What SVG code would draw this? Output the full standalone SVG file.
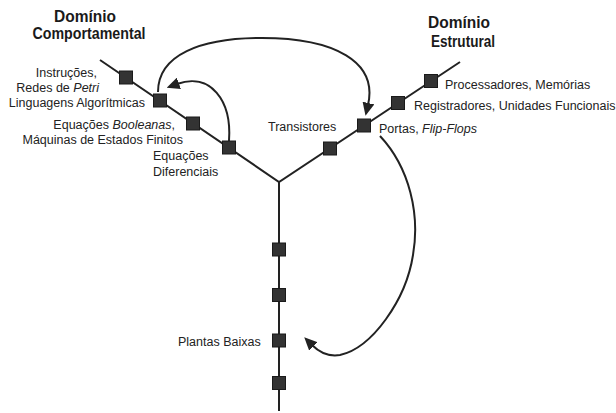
<svg xmlns="http://www.w3.org/2000/svg" width="616" height="413" viewBox="0 0 616 413">
<defs>
<style>
.axis{stroke:#222;stroke-width:2;fill:none}
.arc{stroke:#222;stroke-width:2;fill:none;marker-end:url(#ah)}
.sq{fill:#333;stroke:#1a1a1a;stroke-width:1}
.h{font-family:"Liberation Sans",Arial,sans-serif;font-weight:bold;font-size:16px;fill:#1a1a1a}
.t{font-family:"Liberation Sans",Arial,sans-serif;font-size:12.5px;fill:#222}
.e{text-anchor:end}
.i{font-style:italic}
</style>
<marker id="ah" viewBox="0 0 13 12" refX="2" refY="6" markerWidth="13" markerHeight="12" markerUnits="userSpaceOnUse" orient="auto">
<path d="M0,0 L13,6 L0,12 z" fill="#222"/>
</marker>
</defs>
<rect width="616" height="413" fill="#fff"/>
<g id="axes">
<path class="axis" d="M100,60 L279,182 L460,62 M279,182 L279,411"/>
</g>
<g id="headings">
<text class="h" x="85" y="22" text-anchor="middle" textLength="62" lengthAdjust="spacingAndGlyphs">Domínio</text>
<text class="h" x="89" y="39" text-anchor="middle" textLength="113" lengthAdjust="spacingAndGlyphs">Comportamental</text>
<text class="h" x="459" y="28" text-anchor="middle" textLength="62" lengthAdjust="spacingAndGlyphs">Domínio</text>
<text class="h" x="463" y="47" text-anchor="middle" textLength="64" lengthAdjust="spacingAndGlyphs">Estrutural</text>
</g>
<g id="n-instrucoes"><rect class="sq" x="119.5" y="71" width="13" height="13"/><text class="t e" x="97" y="77">Instruções,</text><text class="t e" x="99" y="92">Redes de <tspan class="i">Petri</tspan></text></g>
<g id="n-linguagens"><rect class="sq" x="153.5" y="94" width="13" height="13"/><text class="t e" x="145" y="107">Linguagens Algorítmicas</text></g>
<g id="n-booleanas"><rect class="sq" x="186.5" y="117" width="13" height="13"/><text class="t e" x="175" y="129">Equações <tspan class="i">Booleanas</tspan>,</text><text class="t e" x="183" y="144">Máquinas de Estados Finitos</text></g>
<g id="n-diferenciais"><rect class="sq" x="222.5" y="141" width="13" height="13"/><text class="t" x="153" y="160">Equações</text><text class="t" x="153" y="176">Diferenciais</text></g>
<g id="n-processadores"><rect class="sq" x="424.5" y="74.5" width="13" height="13"/><text class="t" x="445" y="89">Processadores, Memórias</text></g>
<g id="n-registradores"><rect class="sq" x="391.5" y="96.5" width="13" height="13"/><text class="t" x="414" y="110">Registradores, Unidades Funcionais</text></g>
<g id="n-portas"><rect class="sq" x="357.5" y="119" width="13" height="13"/><text class="t" x="379" y="133">Portas, <tspan class="i">Flip-Flops</tspan></text></g>
<g id="n-transistores"><rect class="sq" x="323.5" y="142" width="13" height="13"/><text class="t" x="268" y="131">Transistores</text></g>
<g id="n-v1"><rect class="sq" x="272.5" y="243" width="13" height="13"/></g>
<g id="n-v2"><rect class="sq" x="272.5" y="288.5" width="13" height="13"/></g>
<g id="n-plantas"><rect class="sq" x="272.5" y="334" width="13" height="13"/><text class="t" x="178" y="346">Plantas Baixas</text></g>
<g id="n-v4"><rect class="sq" x="272.5" y="376.5" width="13" height="13"/></g>
<g id="connectors">
<path class="arc" d="M158,92 C158,55 200,38 262,38 C335,38 378,62 368,105"/>
<path class="arc" d="M229,141 C232,100 210,72 177,84"/>
<path class="arc" d="M380,136 C410,168 420,215 413,255 C406,300 372,348 340,355 C328,357 319,352 312,345"/>
</g>
</svg>
